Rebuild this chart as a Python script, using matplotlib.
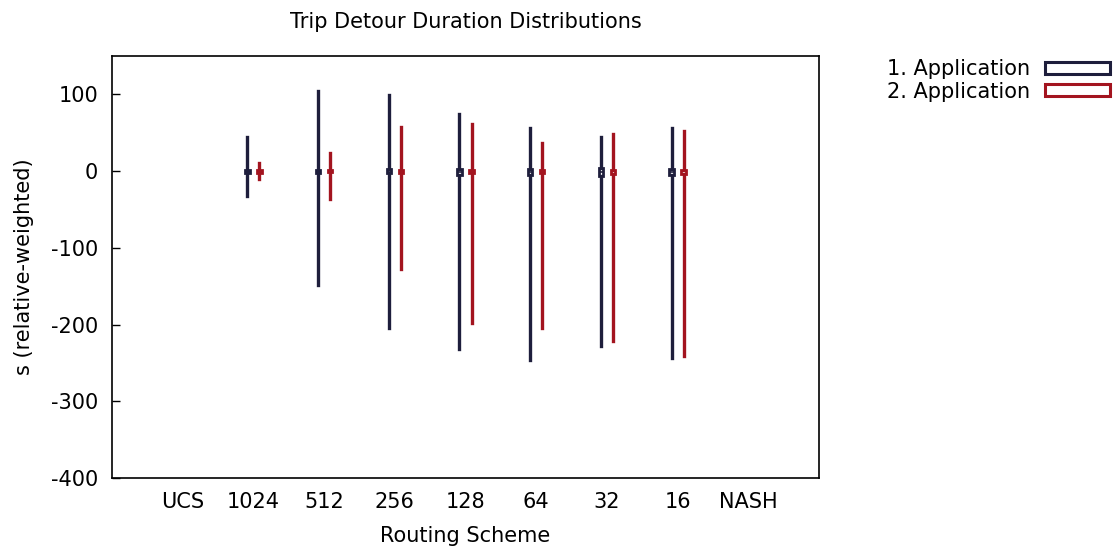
import matplotlib
matplotlib.use("Agg")
import matplotlib.pyplot as plt
from matplotlib.patches import Patch

# Routing schemes along the x axis
schemes = ["UCS", "1024", "512", "256", "128", "64", "32", "16", "NASH"]
# schemes that have distributions (index into `schemes`)
data_idx = [1, 2, 3, 4, 5, 6, 7]

series_labels = ["1. Application", "2. Application"]
colors = ["#1e1e3c", "#a3141f"]

# Box statistics per scheme (1024 .. 16): lower whisker, q1, median, q3, upper whisker
app1_lo = [-33, -148, -204, -232, -246, -228, -243]
app1_q1 = [-2, -2, -3, -5, -5, -6, -5]
app1_med = [0, 0, 0, -1, -1, -1, -1]
app1_q3 = [1, 2, 3, 3, 3, 4, 3]
app1_hi = [45, 105, 99, 75, 56, 45, 56]

app2_lo = [-10, -36, -127, -198, -204, -222, -241]
app2_q1 = [-2, -1, -2, -2, -3, -4, -4]
app2_med = [0, 0, 0, 0, 0, 0, 0]
app2_q3 = [1, 1, 1, 2, 2, 2, 2]
app2_hi = [11, 24, 58, 61, 36, 48, 52]

series = [
    (app1_lo, app1_q1, app1_med, app1_q3, app1_hi),
    (app2_lo, app2_q1, app2_med, app2_q3, app2_hi),
]
offsets = [-0.085, 0.085]

plt.rcParams["font.family"] = ["DejaVu Sans"]
plt.rcParams["axes.unicode_minus"] = False
fig = plt.figure(figsize=(11.18, 5.51), dpi=100)
ax = fig.add_axes([112 / 1118, 73 / 551, 707 / 1118, 422 / 551])

for (lo, q1, med, q3, hi), off, col in zip(series, offsets, colors):
    stats = [
        dict(whislo=a, q1=b, med=c, q3=d, whishi=e, fliers=[])
        for a, b, c, d, e in zip(lo, q1, med, q3, hi)
    ]
    pos = [i + 1 + off for i in data_idx]
    ax.bxp(
        stats,
        positions=pos,
        widths=0.06,
        showcaps=False,
        showfliers=False,
        patch_artist=True,
        boxprops=dict(facecolor="white", edgecolor=col, linewidth=2.0),
        whiskerprops=dict(color=col, linewidth=2.4),
        medianprops=dict(color=col, linewidth=1.2),
        manage_ticks=False,
    )

ax.set_xlim(0, 10)
ax.set_ylim(-400, 150)
ax.set_xticks(range(1, len(schemes) + 1))
ax.set_xticklabels(schemes)
ax.set_yticks([-400, -300, -200, -100, 0, 100])
ax.tick_params(axis="y", direction="in", length=6, width=1, labelsize=15, pad=10)
ax.tick_params(axis="x", direction="in", length=0, labelsize=15, pad=10)
for sp in ax.spines.values():
    sp.set_linewidth(1.2)

ax.set_title("Trip Detour Duration Distributions", fontsize=15, pad=20)
ax.set_xlabel("Routing Scheme", fontsize=15, labelpad=10)
ax.set_ylabel("s (relative-weighted)", fontsize=15, labelpad=12)

handles = [Patch(facecolor="white", edgecolor=c, linewidth=2.2) for c in colors]
fig.legend(handles, series_labels, loc="upper right",
           bbox_to_anchor=(1110 / 1118, 1 - 59 / 551),
           frameon=False, markerfirst=False, fontsize=15,
           handlelength=3.1, handleheight=0.5, handletextpad=0.75,
           labelspacing=0.12, borderpad=0, borderaxespad=0)

fig.savefig("out.png", dpi=100)
